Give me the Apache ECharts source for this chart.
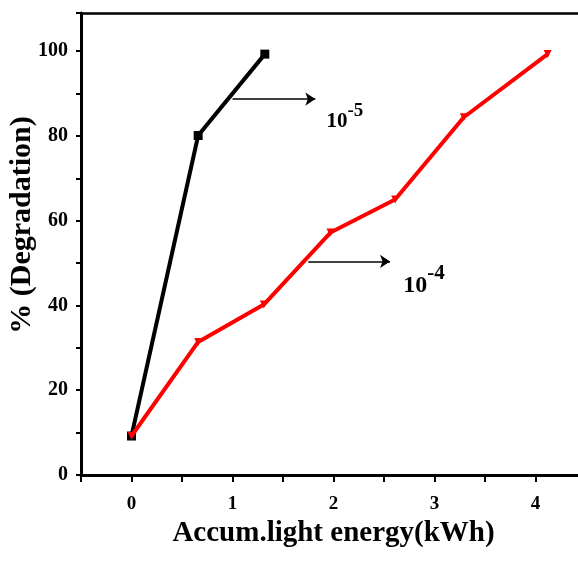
<!DOCTYPE html>
<html>
<head>
<meta charset="utf-8">
<script src="https://cdn.jsdelivr.net/npm/echarts@6/dist/echarts.min.js"></script>
<style>html,body{margin:0;padding:0;background:#fff;}#c{width:578px;height:566px;}</style>
</head>
<body>
<div id="c"></div>
<script>
// Data
const energyBlack = [0, 0.66, 1.32];          // kWh, 10^-5 series
const degBlack    = [9.2, 80.1, 99.3];         // % degradation
const energyRed   = [0, 0.66, 1.31, 1.97, 2.61, 3.29, 4.12]; // kWh, 10^-4 series
const degRed      = [9.2, 31.4, 40.2, 57.2, 65.0, 84.4, 99.3];
const xTicks = [0, 1, 2, 3, 4];
const yTicks = [0, 20, 40, 60, 80, 100];
// Annotation arrows (data coords) and labels
const arrow5 = [[1.0, 88.7], [1.82, 88.7]];
const arrow4 = [[1.75, 50.4], [2.56, 50.4]];
const label5 = [1.93, 84.5];
const label4 = [2.69, 45.9];

const FONT = 'Liberation Serif';
const chart = echarts.init(document.getElementById('c'), null, {renderer: 'canvas'});

function zip(a, b) { return a.map((v, i) => [v, b[i]]); }

const arrowLine = (pts) => ({
  silent: true, symbol: ['none', 'arrow'], symbolSize: 10,
  lineStyle: {color: '#000', width: 1.5, type: 'solid', opacity: 1},
  itemStyle: {color: '#000'},
  label: {show: false},
  emphasis: {disabled: true},
  data: [[{coord: pts[0]}, {coord: pts[1]}]]
});

chart.setOption({
  backgroundColor: '#fff',
  animation: false,
  grid: {
    left: 81, top: 13, bottom: 91, right: -8,
    outerBoundsMode: 'none', containLabel: false, show: false
  },
  xAxis: [{
    type: 'value', min: -0.5, max: 4.5, interval: 0.5,
    name: 'Accum.light energy(kWh)', nameLocation: 'middle', nameGap: 44, nameMoveOverlap: false,
    nameTextStyle: {fontFamily: FONT, fontWeight: 'bold', fontSize: 29, color: '#000'},
    axisLine: {show: true, onZero: false, lineStyle: {color: '#000', width: 3}},
    axisTick: {show: true, inside: false, length: 7, lineStyle: {color: '#000', width: 2}},
    axisLabel: {
      margin: 20, fontFamily: FONT, fontWeight: 'bold', fontSize: 19, color: '#000',
      formatter: v => xTicks.includes(v) ? String(v) : ''
    },
    splitLine: {show: false}
  }, {
    type: 'value', position: 'top', min: -0.5, max: 4.5, interval: 0.5,
    axisLine: {show: true, onZero: false, lineStyle: {color: '#000', width: 2.5}},
    axisTick: {show: false}, axisLabel: {show: false}, splitLine: {show: false}
  }],
  yAxis: {
    type: 'value', min: 0, max: 109, interval: 10,
    name: '% (Degradation)', nameLocation: 'middle', nameGap: 44, nameRotate: 90, nameMoveOverlap: false,
    nameTextStyle: {fontFamily: FONT, fontWeight: 'bold', fontSize: 30, color: '#000', padding: [0, 0, 0, 38]},
    axisLine: {show: true, onZero: false, lineStyle: {color: '#000', width: 3}},
    axisTick: {show: true, inside: false, length: 5, lineStyle: {color: '#000', width: 2}},
    axisLabel: {
      margin: 13, fontFamily: FONT, fontWeight: 'bold', fontSize: 20, color: '#000',
      formatter: v => yTicks.includes(v) ? String(v) : ''
    },
    splitLine: {show: false}
  },
  series: [
    {
      name: '10^-5', type: 'line', data: zip(energyBlack, degBlack),
      symbol: 'rect', symbolSize: 9, showAllSymbol: true,
      lineStyle: {color: '#000', width: 4}, itemStyle: {color: '#000'},
      z: 3,
      markLine: arrowLine(arrow5)
    },
    {
      name: '10^-4', type: 'line', data: zip(energyRed, degRed),
      symbol: 'triangle', symbolRotate: 180, symbolSize: 8, showAllSymbol: true,
      lineStyle: {color: '#ff0000', width: 4}, itemStyle: {color: '#ff0000'},
      z: 4,
      markLine: arrowLine(arrow4)
    },
    {
      name: 'labels', type: 'scatter', symbolSize: 0, silent: true,
      itemStyle: {color: '#000', opacity: 1},
      data: [
        {value: label5, label: {formatter: '{a|10}{b|-5}', rich: {
          a: {fontFamily: FONT, fontWeight: 'bold', fontSize: 21, color: '#000', lineHeight: 30, verticalAlign: 'bottom'},
          b: {fontFamily: FONT, fontWeight: 'bold', fontSize: 19, color: '#000', lineHeight: 30, verticalAlign: 'top'}
        }}},
        {value: label4, label: {formatter: '{a|10}{b|-4}', rich: {
          a: {fontFamily: FONT, fontWeight: 'bold', fontSize: 24, color: '#000', lineHeight: 34, verticalAlign: 'bottom'},
          b: {fontFamily: FONT, fontWeight: 'bold', fontSize: 21, color: '#000', lineHeight: 34, verticalAlign: 'top'}
        }}}
      ],
      label: {show: true, position: 'right', distance: 0, color: '#000', opacity: 1}
    }
  ]
});
</script>
</body>
</html>
